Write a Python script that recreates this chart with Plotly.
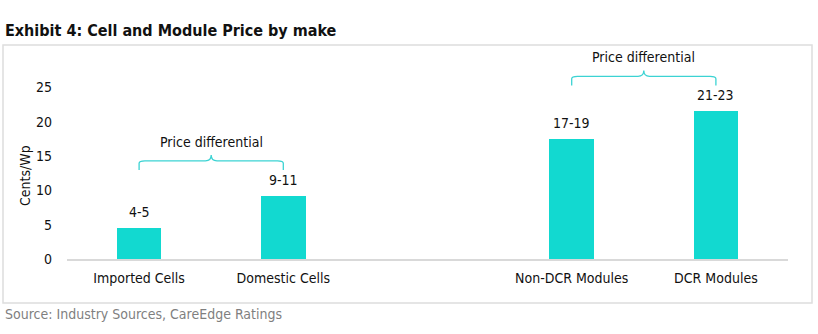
import plotly.graph_objects as go

categories = ["Imported Cells", "Domestic Cells", "", "Non-DCR Modules", "DCR Modules"]
values = [4.5, 9.2, None, 17.45, 21.5]
labels = ["4-5", "9-11", "", "17-19", "21-23"]
y_ticks = [0, 5, 10, 15, 20, 25]
bracket_pairs = [(0, 1), (3, 4)]
bracket_text = "Price differential"

W, H = 818, 334
L, R, T, B = 67, 30, 53, 75
PW, PH = W - L - R, H - T - B

def xp(px):
    return (px - L) / PW

def yp(py):
    return (H - B - py) / PH

FONT = "Tahoma, 'DejaVu Sans Condensed', 'DejaVu Sans', sans-serif"
BAR = "#12d9d0"
BR = "#3cd3d3"

xs = list(range(len(categories)))
bx = [x for x, v in zip(xs, values) if v is not None]
bv = [v for v in values if v is not None]
bl = [l for l, v in zip(labels, values) if v is not None]

fig = go.Figure(go.Bar(
    x=bx, y=bv,
    marker=dict(color=BAR, line=dict(width=0)), width=0.31,
    hoverinfo="skip",
))

shapes = []
annotations = []
for x, v, t in zip(bx, bv, bl):
    annotations.append(dict(x=x, y=v, xref="x", yref="y", text=t, showarrow=False,
                            yanchor="bottom", yshift=6,
                            font=dict(size=14, color="#111", family=FONT)))

for a, b in bracket_pairs:
    top = max(values[a], values[b]) + 5.1
    lo = top - 1.35
    tip = top + 0.85
    mid = (a + b) / 2
    r = 0.04
    ry = 0.35
    path = (f"M {a},{lo} L {a},{top-ry} Q {a},{top} {a+r},{top} "
            f"L {mid-r},{top} Q {mid},{top} {mid},{tip} "
            f"Q {mid},{top} {mid+r},{top} L {b-r},{top} "
            f"Q {b},{top} {b},{top-ry} L {b},{lo}")
    shapes.append(dict(type="path", path=path, xref="x", yref="y",
                       line=dict(color=BR, width=1.3)))
    annotations.append(dict(x=mid, y=top + 2.8, xref="x", yref="y",
                            text=bracket_text, showarrow=False,
                            yanchor="middle",
                            font=dict(size=14, color="#111", family=FONT)))

# outer box
shapes.append(dict(type="rect", xref="paper", yref="paper",
                   x0=xp(3), x1=xp(812), y0=yp(303), y1=yp(45),
                   line=dict(color="#dddddd", width=1.5), layer="below"))

annotations += [
    dict(x=xp(3), y=yp(30), xref="paper", yref="paper", xanchor="left",
         yanchor="middle", showarrow=False,
         text="<b>Exhibit 4: Cell and Module Price by make</b>",
         font=dict(size=16, color="#111", family=FONT)),
    dict(x=xp(3), y=yp(314), xref="paper", yref="paper", xanchor="left",
         yanchor="middle", showarrow=False,
         text="Source: Industry Sources, CareEdge Ratings",
         font=dict(size=14, color="#7f7f7f", family=FONT)),
    dict(x=xp(25), y=yp(176), xref="paper", yref="paper", xanchor="center",
         yanchor="middle", showarrow=False, textangle=-90,
         text="Cents/Wp",
         font=dict(size=14, color="#111", family=FONT)),
]

fig.update_layout(
    width=W, height=H, margin=dict(l=L, r=R, t=T, b=B),
    paper_bgcolor="white", plot_bgcolor="white",
    showlegend=False, shapes=shapes, annotations=annotations,
    font=dict(family=FONT, size=14, color="#111"),
    bargap=0,
)
fig.update_xaxes(range=[-0.5, 4.5], tickvals=[x for x, c in zip(xs, categories) if c],
                 ticktext=[c for c in categories if c], showgrid=False,
                 showline=True, linecolor="#d9d9d9", linewidth=1.5,
                 zeroline=False, ticks="", ticklabelstandoff=5,
                 tickfont=dict(size=14, color="#111", family=FONT))
fig.update_yaxes(range=[0, 30], tickvals=y_ticks, showgrid=False, zeroline=False,
                 showline=False, ticks="", ticklabelstandoff=14,
                 tickfont=dict(size=14, color="#111", family=FONT))

fig.write_html("out.html")
